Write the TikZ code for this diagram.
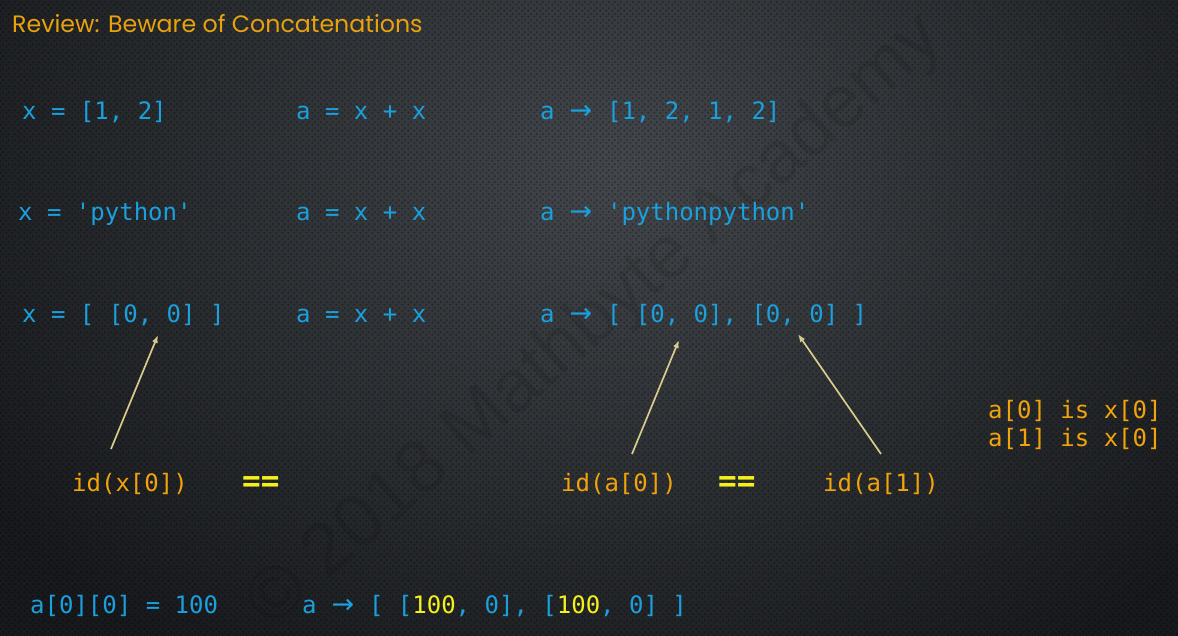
\documentclass[tikz,border=0pt]{standalone}
\usepackage{fontspec}
\setmainfont{DejaVu Sans}
\newfontfamily\codefont{DejaVu Sans Mono}
\newfontfamily\titlefont{Poppins}
\newfontfamily\wmfont{Liberation Sans}
\newfontfamily\arrfont{DejaVu Sans}
\usetikzlibrary{arrows.meta,patterns}
\definecolor{bgout}{HTML}{17191C}
\definecolor{bgin}{HTML}{43474B}
\definecolor{codeblue}{HTML}{1BA0DE}
\definecolor{codeorange}{HTML}{F0A30A}
\definecolor{titleorange}{HTML}{E8A20C}
\definecolor{codeyellow}{HTML}{F5F01A}
\definecolor{arrowkhaki}{HTML}{D8CB8C}
\newcommand{\gives}{\makebox[23.5pt]{\arrfont\fontsize{27}{28}\selectfont →}}
\pgfdeclarepatternformonly{holes}{\pgfpointorigin}{\pgfpoint{6pt}{6pt}}{\pgfpoint{6pt}{6pt}}{%
  \pgfpathcircle{\pgfpoint{1.5pt}{1.5pt}}{1.25pt}%
  \pgfpathcircle{\pgfpoint{4.5pt}{4.5pt}}{1.25pt}%
  \pgfusepath{fill}}
\tikzset{
  code/.style={anchor=base west, inner sep=0pt, font=\codefont\fontsize{24}{28}\selectfont, text=codeblue},
  note/.style={anchor=base west, inner sep=0pt, font=\codefont\fontsize{24}{28}\selectfont, text=codeorange},
  eq/.style={anchor=base west, inner sep=0pt, font=\codefont\bfseries\fontsize{31}{34}\selectfont, text=codeyellow},
  ptr/.style={draw=arrowkhaki, line width=1.7pt, -{Latex[length=8pt,width=6pt]}},
}
\begin{document}
\begin{tikzpicture}[x=1pt,y=-1pt]
\useasboundingbox (0,0) rectangle (1178,635);
% background
\begin{scope}
\clip (0,0) rectangle (1178,635);
\fill[bgout] (0,0) rectangle (1178,635);
\shade[inner color=bgin, outer color=bgout] (-140,-420) rectangle (1380,760);
\fill[pattern=holes, pattern color=black, opacity=0.32] (0,0) rectangle (1178,635);
\node[rotate=41, text=black, opacity=0.09, font=\wmfont\fontsize{74}{80}\selectfont] (wm) at (596,322) {© 2018 Mathbyte Academy};
\end{scope}
% title
\node[anchor=base west, inner sep=0pt, text=titleorange, font=\titlefont\fontsize{23.7}{28}\selectfont] (title) at (12,32) {Review: Beware of Concatenations};
% row 1
\node[code] (x1) at (22,119) {x = [1, 2]};
\node[code] (a1) at (296,119) {a = x + x};
\node[code] (r1) at (540,119) {a \gives{} [1, 2, 1, 2]};
% row 2
\node[code] (x2) at (18,220) {x = 'python'};
\node[code] (a2) at (296,220) {a = x + x};
\node[code] (r2) at (540,220) {a \gives{} 'pythonpython'};
% row 3
\node[code] (x3) at (22,322) {x = [ [0, 0] ]};
\node[code] (a3) at (296,322) {a = x + x};
\node[code] (r3) at (540,322) {a \gives{} [ [0, 0], [0, 0] ]};
% notes
\node[note] (n1) at (988,418) {a[0] is x[0]};
\node[note] (n2) at (988,446) {a[1] is x[0]};
% id labels
\node[note] (idx) at (72,491) {id(x[0])};
\node[eq] (eq1) at (242,491) {==};
\node[note] (ida0) at (561,491) {id(a[0])};
\node[eq] (eq2) at (718,491) {==};
\node[note] (ida1) at (823,491) {id(a[1])};
% bottom
\node[code] (b1) at (30,613) {a[0][0] = 100};
\node[code] (b2) at (302,613) {a \gives{} [ [\textcolor{codeyellow}{100}, 0], [\textcolor{codeyellow}{100}, 0] ]};
% pointer coordinates
\coordinate (px) at (158,335);
\coordinate (pa0) at (679,340);
\coordinate (pa1) at (798,334);
\coordinate (sx) at (111,449);
\coordinate (sa0) at (632,454);
\coordinate (sa1) at (881,454);
\draw[ptr] (sx) -- (px);
\draw[ptr] (sa0) -- (pa0);
\draw[ptr] (sa1) -- (pa1);
\end{tikzpicture}
\end{document}
